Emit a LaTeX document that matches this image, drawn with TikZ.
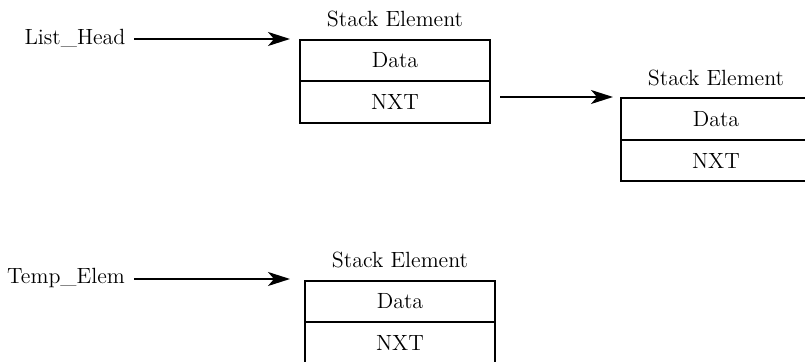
\documentclass[tikz,border=0pt]{standalone}
\usepackage{tikz}
\usetikzlibrary{positioning, arrows.meta}

\tikzset{
    cell/.style={draw, line width=1pt, rectangle, minimum width=95pt, minimum height=20.75pt, inner sep=0pt, outer sep=0pt},
    title/.style={inner sep=2pt},
    ptr/.style={line width=1pt, -{Stealth[length=11pt, width=7pt, inset=3pt]}}
}

\begin{document}
\begin{tikzpicture}[x=0.5pt, y=-0.5pt, font=\fontsize{11}{13}\selectfont]
    \useasboundingbox (0, 0) rectangle (805, 362);
    % first element
    \node[cell] (data1) at (395, 60.5) {Data};
    \node[cell, below=0pt of data1] (nxt1) {NXT};
    \node[title, above=4pt of data1] (lbl1) {Stack Element};
    % second element
    \node[cell] (data2) at (716, 119.25) {Data};
    \node[cell, below=0pt of data2] (nxt2) {NXT};
    \node[title, above=4pt of data2] (lbl2) {Stack Element};
    % temp element
    \node[cell] (data3) at (400, 301.5) {Data};
    \node[cell, below=0pt of data3] (nxt3) {NXT};
    \node[title, above=4pt of data3] (lbl3) {Stack Element};
    % pointers
    \node[inner sep=0pt] (head) at (75, 38) {List\_Head};
    \node[inner sep=0pt] (temp) at (66, 278) {Temp\_Elem};
    \coordinate (headfrom) at (134, 39);
    \coordinate (headto) at (290, 39);
    \coordinate (nxtfrom) at (500, 97);
    \coordinate (nxtto) at (613, 97);
    \coordinate (tempfrom) at (134, 279);
    \coordinate (tempto) at (290, 279);
    \path[ptr] (headfrom) edge (headto);
    \path[ptr] (nxtfrom) edge (nxtto);
    \path[ptr] (tempfrom) edge (tempto);
\end{tikzpicture}
\end{document}
